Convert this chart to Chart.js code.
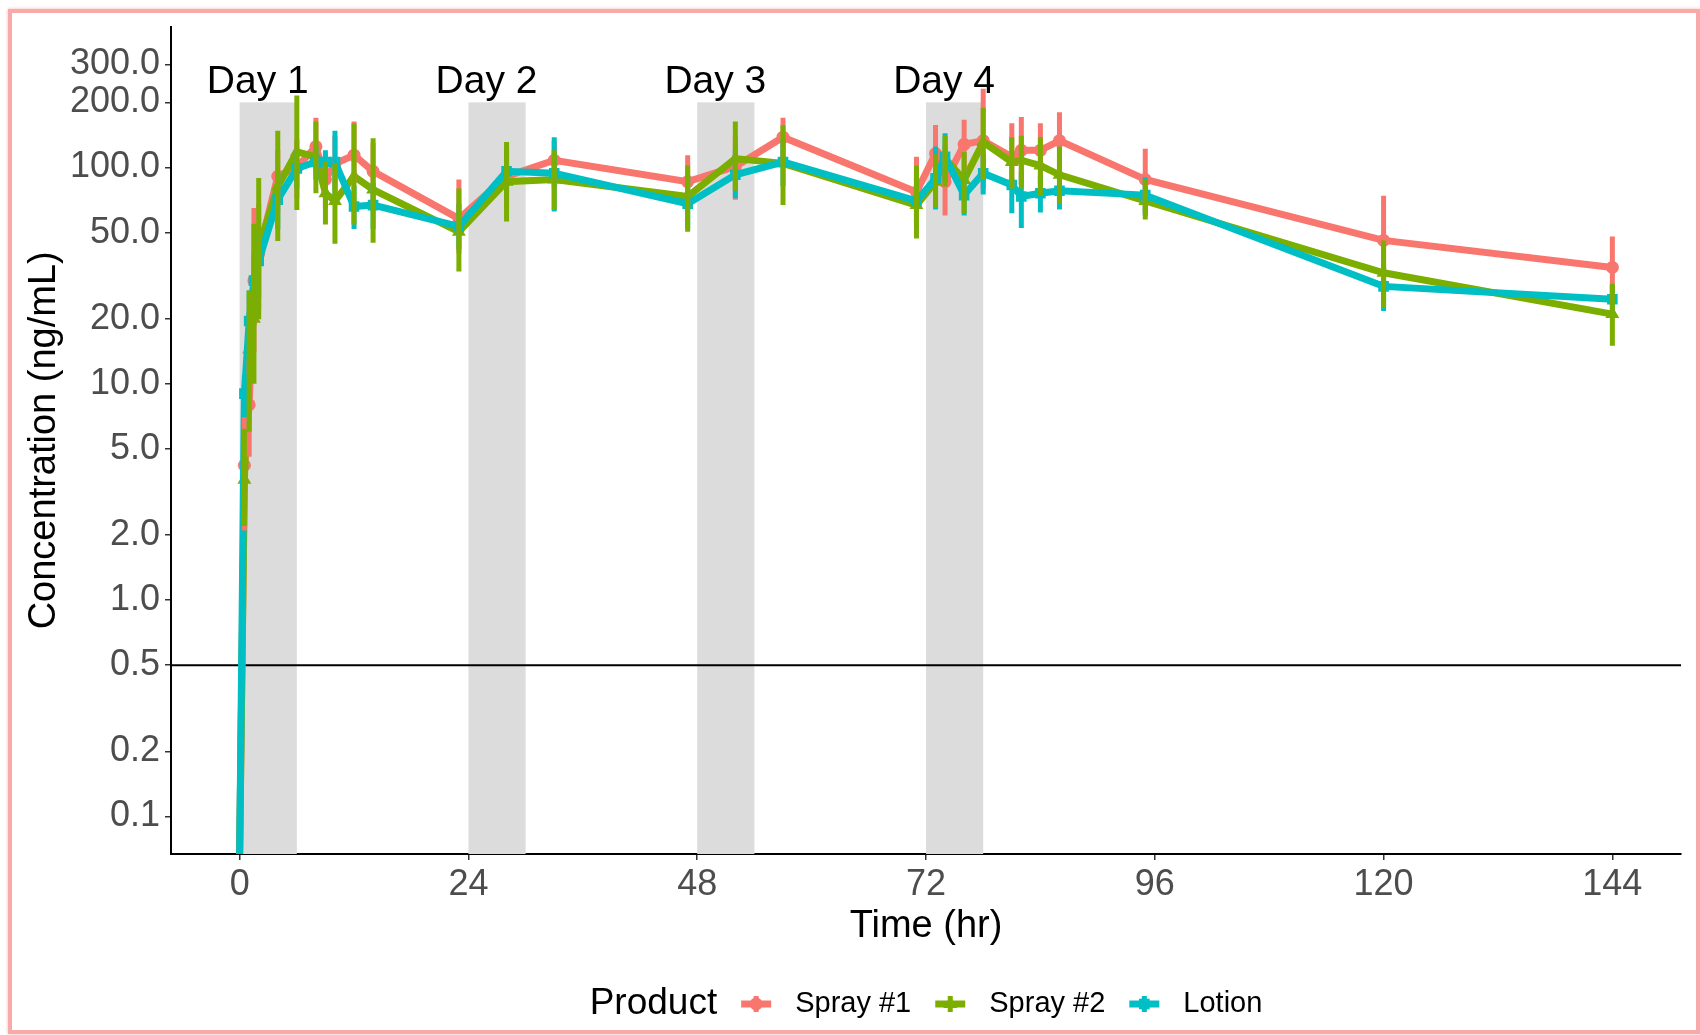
<!DOCTYPE html>
<html>
<head>
<meta charset="utf-8">
<title>Concentration over time by product</title>
<script src="https://cdn.jsdelivr.net/npm/chart.js@4/dist/chart.umd.min.js"></script>
<style>
  html, body { margin: 0; padding: 0; background: #ffffff; overflow: hidden; }
  #wrap { position: relative; width: 1700px; height: 1035px; }
  #c { position: absolute; left: 0; top: 0; }
  #frame {
    position: absolute; left: 8px; top: 9px; width: 1692px; height: 1025px;
    box-sizing: border-box; border: 4px solid rgb(248, 170, 170);
    box-shadow: 0 0 3px rgba(248, 118, 109, 0.55);
    pointer-events: none;
  }
</style>
</head>
<body>
<div id="wrap">
  <canvas id="c" width="1700" height="1035"></canvas>
  <div id="frame"></div>
</div>
<script>
// Sampling times (hr)
const TIME_HR = [0, 0.5, 1, 1.5, 2, 4, 6, 8, 9, 10, 12, 14, 23, 28, 33, 47, 52, 57,
                 71, 73, 74, 76, 78, 81, 82, 84, 86, 95, 120, 144];

// Product names
const PRODUCTS = ['Spray #1', 'Spray #2', 'Lotion'];

// Spray #1: mean and error-bar limits (ng/mL)
const SPRAY1_MEAN = [0, 4.2, 8.0, 30, 40, 91, 100, 125, 88, 104, 114, 96, 58, 91, 108, 86, 101, 138,
                     77, 116, 86, 128, 133, 112, 120, 120, 133, 88, 46, 34.5];
const SPRAY1_LOW  = [null, 2.1, 4.6, 14, 22, 62, 72, 95, 65, 78, 85, 70, 40, 65, 80, 65, 71, 105,
                     56, 67, 60, 95, 79, 80, 84, 85, 95, 62, 28, 24];
const SPRAY1_HIGH = [null, 8.5, 13, 65, 68, 120, 135, 170, 115, 140, 163, 130, 88, 122, 133, 114, 140, 170,
                     112, 157, 125, 166, 231, 160, 171, 160, 180, 122, 74, 48];

// Spray #2
const SPRAY2_MEAN = [0, 3.6, 14.4, 20, 42.5, 81.6, 118, 112, 76, 70, 91, 79, 50.4, 86, 88, 73.4, 110, 104.5,
                     67, 86, 110, 87.6, 131, 106, 108, 102, 92.5, 70, 32.6, 21];
const SPRAY2_LOW  = [null, 2.2, 6, 10, 19.9, 45.7, 63.6, 76, 54.5, 44.4, 54.5, 44.9, 33, 56.3, 63.6, 50.4, 78, 67,
                     47, 65, 81.6, 61.5, 87.6, 80, 80, 74.5, 68, 57.5, 22.5, 15];
const SPRAY2_HIGH = [null, 6.2, 27, 55, 89.5, 148, 215, 163, 106, 104.5, 159.6, 136.5, 80, 131, 120, 102, 163, 156.7,
                     102, 115, 140, 118, 189, 138, 140, 138, 125, 88, 46, 29];

// Lotion
const LOTION_MEAN = [0, 9, 19.5, 30, 37, 71, 99, 106, 106, 106, 66, 67, 53.4, 96, 94, 68, 92.5, 106,
                     70, 89, 112, 74.5, 94, 83, 73.4, 76, 78, 74.5, 28.2, 24.6];
const LOTION_LOW  = [null, 7, 14, 20, 25, 52, 80, 88, 85, 75, 52, 52, 42, 72, 62.5, 52, 72, 82,
                     52, 64, 85, 60, 75, 61.5, 52.5, 62, 64, 60, 21.7, 21];
const LOTION_HIGH = [null, 11, 27, 40, 52, 95, 120, 125, 120, 148, 82, 85, 68, 125, 138, 92, 120, 135,
                     95, 125, 144, 95, 115, 89, 95, 92, 92, 90, 36, 28.5];

// Dosing windows: start of each daily application (hr), its duration and label
const DOSE_START_HR = [0, 24, 48, 72];
const DOSE_LABELS = ['Day 1', 'Day 2', 'Day 3', 'Day 4'];
const DOSE_DURATION_HR = 6;
const DOSE_BAND_TOP = 200;

// Lower limit of quantification (ng/mL)
const LLOQ = 0.5;

// Axis ticks
const X_TICKS = [0, 24, 48, 72, 96, 120, 144];
const Y_TICKS = [0.1, 0.2, 0.5, 1, 2, 5, 10, 20, 50, 100, 200, 300];

// ---------------------------------------------------------------------------
const X_MIN = -7.2, X_MAX = 151.2;
const Y_MIN = 0.067, Y_MAX = 448;
const FONT = '"Liberation Sans", Arial, Helvetica, sans-serif';
const COLORS = ['#F8766D', '#7CAE00', '#00BFC4'];
const STYLES = ['circle', 'triangle', 'rect'];
const RADII = [6.5, 8, 7.5];
const LINE_W = 7;
const ERR_W = 5;

const MEANS = [SPRAY1_MEAN, SPRAY2_MEAN, LOTION_MEAN];
const LOWS = [SPRAY1_LOW, SPRAY2_LOW, LOTION_LOW];
const HIGHS = [SPRAY1_HIGH, SPRAY2_HIGH, LOTION_HIGH];

Chart.defaults.font.family = FONT;

// Zero concentrations sit on the lower panel edge of the log axis
function toPoints(values) {
  return TIME_HR.map((t, i) => ({ x: t, y: values[i] > 0 ? values[i] : Y_MIN }));
}

function markerPath(ctx, style, r, x, y) {
  ctx.beginPath();
  if (style === 'circle') {
    ctx.arc(x, y, r, 0, Math.PI * 2);
  } else if (style === 'triangle') {
    let a = 0;
    ctx.moveTo(x + Math.sin(a) * r, y - Math.cos(a) * r);
    a += 2 * Math.PI / 3;
    ctx.lineTo(x + Math.sin(a) * r, y - Math.cos(a) * r);
    a += 2 * Math.PI / 3;
    ctx.lineTo(x + Math.sin(a) * r, y - Math.cos(a) * r);
    ctx.closePath();
  } else {
    const s = r * Math.SQRT1_2;
    ctx.rect(x - s, y - s, 2 * s, 2 * s);
  }
}

// Grey dosing bands and the LLOQ reference line, under the data
const backgroundPlugin = {
  id: 'doseBands',
  beforeDatasetsDraw(chart) {
    const { ctx, chartArea: a, scales: { x, y } } = chart;
    ctx.save();
    ctx.beginPath();
    ctx.rect(a.left, a.top, a.right - a.left, a.bottom - a.top);
    ctx.clip();
    ctx.fillStyle = '#DCDCDC';
    const top = y.getPixelForValue(DOSE_BAND_TOP);
    DOSE_START_HR.forEach(t0 => {
      const x0 = x.getPixelForValue(t0);
      const x1 = x.getPixelForValue(t0 + DOSE_DURATION_HR);
      ctx.fillRect(x0, top, x1 - x0, a.bottom - top);
    });
    const yl = y.getPixelForValue(LLOQ);
    ctx.strokeStyle = '#000';
    ctx.lineWidth = 2;
    ctx.beginPath();
    ctx.moveTo(a.left, yl);
    ctx.lineTo(a.right, yl);
    ctx.stroke();
    ctx.restore();
  }
};

// Error bars drawn over the lines, then the day labels
const errorBarPlugin = {
  id: 'errorBars',
  afterDatasetsDraw(chart) {
    const { ctx, chartArea: a, scales: { x, y } } = chart;
    ctx.save();
    ctx.beginPath();
    ctx.rect(a.left, a.top, a.right - a.left, a.bottom - a.top);
    ctx.clip();
    ctx.lineWidth = ERR_W;
    ctx.lineCap = 'butt';
    [0, 2, 1].forEach(k => {
      ctx.strokeStyle = COLORS[k];
      TIME_HR.forEach((t, i) => {
        const lo = LOWS[k][i], hi = HIGHS[k][i];
        if (lo == null || hi == null) return;
        const px = x.getPixelForValue(t);
        ctx.beginPath();
        ctx.moveTo(px, y.getPixelForValue(lo));
        ctx.lineTo(px, y.getPixelForValue(hi));
        ctx.stroke();
      });
    });
    ctx.restore();

    ctx.save();
    ctx.fillStyle = '#000';
    ctx.font = '39px ' + FONT;
    ctx.textAlign = 'center';
    ctx.textBaseline = 'alphabetic';
    const base = y.getPixelForValue(DOSE_BAND_TOP) - 9;
    DOSE_START_HR.forEach((t0, i) => {
      ctx.fillText(DOSE_LABELS[i], x.getPixelForValue(t0 + 1.9), base);
    });
    ctx.restore();
  }
};

// Legend row under the x-axis title
const legendPlugin = {
  id: 'productLegend',
  afterDraw(chart) {
    const { ctx, chartArea: a } = chart;
    const cy = 1004;
    const gap = 22, keyW = 34;
    ctx.save();
    ctx.textBaseline = 'middle';
    ctx.textAlign = 'left';
    ctx.font = '37px ' + FONT;
    const titleW = ctx.measureText('Product').width;
    ctx.font = '29px ' + FONT;
    const labelW = PRODUCTS.map(p => ctx.measureText(p).width);
    let total = titleW;
    labelW.forEach(w => { total += gap + keyW + gap + w; });
    let x = (a.left + a.right) / 2 - total / 2;
    ctx.fillStyle = '#000';
    ctx.font = '37px ' + FONT;
    ctx.fillText('Product', x, cy);
    x += titleW + gap;
    PRODUCTS.forEach((p, k) => {
      const cx = x + keyW / 2;
      ctx.strokeStyle = COLORS[k];
      ctx.fillStyle = COLORS[k];
      ctx.lineWidth = LINE_W;
      ctx.beginPath();
      ctx.moveTo(x + 2, cy); ctx.lineTo(x + keyW - 2, cy);
      ctx.stroke();
      ctx.lineWidth = ERR_W;
      ctx.beginPath();
      ctx.moveTo(cx, cy - 8); ctx.lineTo(cx, cy + 8);
      ctx.stroke();
      markerPath(ctx, STYLES[k], RADII[k], cx, cy);
      ctx.fill();
      x += keyW + gap;
      ctx.fillStyle = '#000';
      ctx.font = '29px ' + FONT;
      ctx.fillText(p, x, cy);
      x += labelW[k] + gap;
    });
    ctx.restore();
  }
};

const datasets = PRODUCTS.map((name, k) => ({
  label: name,
  data: toPoints(MEANS[k]),
  borderColor: COLORS[k],
  backgroundColor: COLORS[k],
  borderWidth: LINE_W,
  pointStyle: STYLES[k],
  pointRadius: MEANS[k].map(v => v > 0 ? RADII[k] : 0),
  pointBorderWidth: 0,
  pointHoverRadius: 0,
  tension: 0,
  fill: false,
  order: 3 - k
}));

new Chart(document.getElementById('c'), {
  type: 'line',
  data: { datasets },
  plugins: [backgroundPlugin, errorBarPlugin, legendPlugin],
  options: {
    responsive: false,
    animation: false,
    devicePixelRatio: 1,
    layout: { padding: { left: 0, right: 19, top: 25, bottom: 0 } },
    plugins: { legend: { display: false }, tooltip: { enabled: false } },
    scales: {
      x: {
        type: 'linear',
        min: X_MIN, max: X_MAX,
        bounds: 'data',
        afterBuildTicks: s => { s.ticks = X_TICKS.map(v => ({ value: v })); },
        afterFit: s => { s.height = 181; },
        grid: { drawOnChartArea: false, drawTicks: true, tickLength: 6, color: '#333', lineWidth: 1.5 },
        border: { display: true, color: '#000', width: 2 },
        ticks: { color: '#4D4D4D', font: { size: 36 }, padding: 3, autoSkip: false, maxRotation: 0,
                 callback: v => String(v) },
        title: { display: true, text: 'Time (hr)', color: '#000', font: { size: 38 },
                 padding: { top: 0, bottom: 86 } }
      },
      y: {
        type: 'logarithmic',
        min: Y_MIN, max: Y_MAX,
        bounds: 'data',
        afterBuildTicks: s => { s.ticks = Y_TICKS.map(v => ({ value: v })); },
        afterFit: s => { s.width = 171; },
        grid: { drawOnChartArea: false, drawTicks: true, tickLength: 6, color: '#333', lineWidth: 1.5 },
        border: { display: true, color: '#000', width: 2 },
        ticks: { color: '#4D4D4D', font: { size: 36 }, padding: 5, autoSkip: false,
                 callback: v => Number(v).toFixed(1) },
        title: { display: true, text: 'Concentration (ng/mL)', color: '#000', font: { size: 38 },
                 padding: { top: 22, bottom: 0 } }
      }
    }
  }
});
</script>
</body>
</html>
